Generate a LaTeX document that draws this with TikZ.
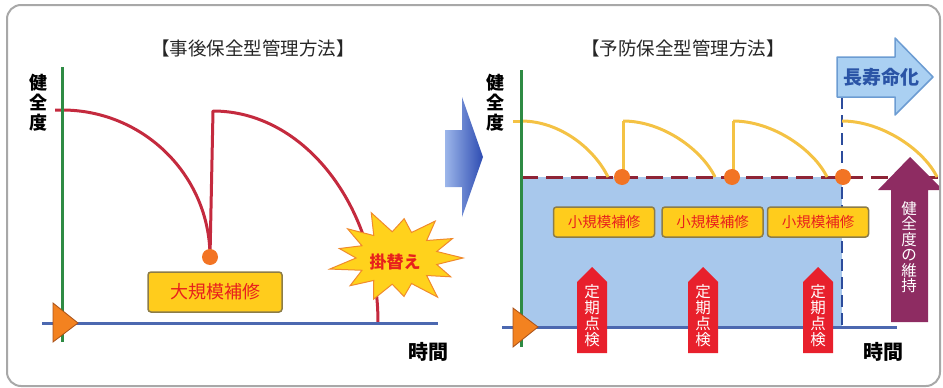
\documentclass[tikz,border=0pt]{standalone}
\usepackage{fontspec}
\setmainfont{Noto Sans CJK JP}
\usetikzlibrary{arrows}
\definecolor{framegray}{HTML}{A8A8A8}
\definecolor{axisgreen}{HTML}{2E8B44}
\definecolor{axisblue}{HTML}{4C68B0}
\definecolor{curvered}{HTML}{C42A3E}
\definecolor{dotorange}{HTML}{F27424}
\definecolor{boxyellow}{HTML}{FFCC1C}
\definecolor{boxedge}{HTML}{8C7C48}
\definecolor{textred}{HTML}{E8201C}
\definecolor{areablue}{HTML}{A8C8EC}
\definecolor{curvegold}{HTML}{F4C244}
\definecolor{dashred}{HTML}{8E2436}
\definecolor{dashblue}{HTML}{2C4C9C}
\definecolor{inspred}{HTML}{E8202C}
\definecolor{keeppurple}{HTML}{8E2C62}
\definecolor{lifeblue}{HTML}{AAD0F2}
\definecolor{lifeedge}{HTML}{6C9CD2}
\definecolor{lifetext}{HTML}{2A54A6}
\definecolor{burstyellow}{HTML}{FFD21C}
\definecolor{burstedge}{HTML}{F08A2C}
\definecolor{arrowlight}{HTML}{9CB6EA}
\definecolor{arrowdark}{HTML}{2E4CB2}
\tikzset{
  repairbox/.style={draw=boxedge, line width=1.5pt, fill=boxyellow, rounded corners=3pt,
    text=textred, inner sep=0pt},
  vlabel/.style={align=center, inner sep=0pt, font=\bfseries\fontsize{18}{20}\selectfont},
  vwhite/.style={align=center, inner sep=0pt, text=white},
  tlabel/.style={inner sep=0pt, font=\bfseries\fontsize{20}{22}\selectfont},
  heading/.style={inner sep=0pt, text=black!85, font=\fontsize{18.5}{20}\selectfont},
  startmark/.style={fill=dotorange!90!yellow, draw=dotorange!70!black, line width=0.8pt}
}
\begin{document}
\begin{tikzpicture}[x=1pt,y=-1pt]
\useasboundingbox (0,0) rectangle (943,388);
\draw[framegray, line width=2pt, rounded corners=14pt] (7,5) rectangle (940,386);

% left panel
\node[heading] (titleL) at (253,48) {【事後保全型管理方法】};
\node[vlabel] (yL) at (39,103) {健\\全\\度};
\node[tlabel] (tL) at (428,352) {時間};
\draw[curvered, line width=3pt, line join=round]
  (55,110) -- (62,110) .. controls (144,110) and (210,176) .. (210,257)
  -- (213,111) .. controls (304,111) and (378,206) .. (378,323);
\fill[dotorange] (210,257) circle (8);
\node[repairbox, minimum width=134pt, minimum height=40pt,
  font=\fontsize{18}{20}\selectfont] (big) at (215,292) {大規模補修};
\filldraw[fill=burstyellow, draw=burstedge, line width=1pt, shift={(397,258)}]
  (0:66 and 44) \foreach \a/\f in {13.85/0.62, 27.69/0.92, 41.54/0.6, 55.38/1.08,
    69.23/0.62, 83.08/0.88, 96.92/0.6, 110.77/1.0, 124.62/0.62, 138.46/0.95,
    152.31/0.6, 166.15/1.05, 180/0.62, 193.85/0.9, 207.69/0.6, 221.54/1.0,
    235.38/0.62, 249.23/1.1, 263.08/0.6, 276.92/0.9, 290.77/0.62, 304.62/1.02,
    318.46/0.6, 332.31/0.95, 346.15/0.62}
  { -- (\a:{66*\f} and {44*\f}) } -- cycle;
\node[text=textred, inner sep=0pt, font=\bfseries\fontsize{17}{18}\selectfont]
  (swap) at (395,262) {掛替え};
\draw[axisblue, line width=3pt] (42,323) -- (438,323);
\draw[axisgreen, line width=3pt] (62,67) -- (62,342);
\draw[startmark] (53,303) -- (78,323) -- (53,342) -- cycle;

% middle arrow
\shade[left color=arrowlight, right color=arrowdark]
  (445,130) -- (462,130) -- (462,97) -- (483,157) -- (462,217) -- (462,187)
  -- (445,187) -- cycle;

% right panel
\node[heading] (titleR) at (683,48) {【予防保全型管理方法】};
\node[vlabel] (yR) at (495,103) {健\\全\\度};
\node[tlabel] (tR) at (883,352) {時間};
\fill[areablue] (521,177) rectangle (842,327);
\draw[dashred, line width=3pt, dash pattern=on 17pt off 8pt] (521,177) -- (940,177);
\draw[dashblue, line width=2.5pt, dash pattern=on 12pt off 6pt] (842,97) -- (842,327);
\draw[curvegold, line width=3pt] (513,121) -- (521,121);
\foreach \s/\e in {521/608, 623/715, 733/827, 842/937}
  \draw[curvegold, line width=3pt] (\s,121) .. controls (\s+40,121) and (\e-13,150) .. (\e,177);
\foreach \s in {623,733}
  \draw[curvegold, line width=3pt] (\s,177) -- (\s,121);
\foreach \x in {622,732,843}
  \fill[dotorange] (\x,177) circle (8);
\foreach \x/\n in {604/1, 712.5/2, 818/3}
  \node[repairbox, minimum width=101pt, minimum height=30pt,
    font=\fontsize{14.5}{16}\selectfont] (small\n) at (\x,222) {小規模補修};
\draw[axisblue, line width=3pt] (502,327) -- (897,327);
\draw[axisgreen, line width=3pt] (521,70) -- (521,347);
\draw[startmark] (513,308) -- (538,327) -- (513,347) -- cycle;
\foreach \x/\n in {592/1, 703/2, 818/3} {
  \fill[inspred] (\x-15,353) -- (\x-15,282) -- (\x,267) -- (\x+15,282) -- (\x+15,353) -- cycle;
  \node[vwhite, font=\fontsize{15.5}{16}\selectfont] (insp\n) at (\x,316) {定\\期\\点\\検};
}
\fill[keeppurple] (891,322) -- (891,190) -- (878,190) -- (910,157) -- (939,186)
  -- (939,190) -- (928,190) -- (928,322) -- cycle;
\node[vwhite, font=\fontsize{15.5}{15.5}\selectfont] (keep) at (909,247) {健\\全\\度\\の\\維\\持};
\draw[lifeedge, fill=lifeblue, line width=1.5pt, line join=round]
  (837,57) -- (895,57) -- (895,38) -- (933,77) -- (895,115) -- (895,97) -- (837,97) -- cycle;
\node[text=lifetext, inner sep=0pt, font=\bfseries\fontsize{19}{20}\selectfont]
  (life) at (881,77) {長寿命化};
\end{tikzpicture}
\end{document}
